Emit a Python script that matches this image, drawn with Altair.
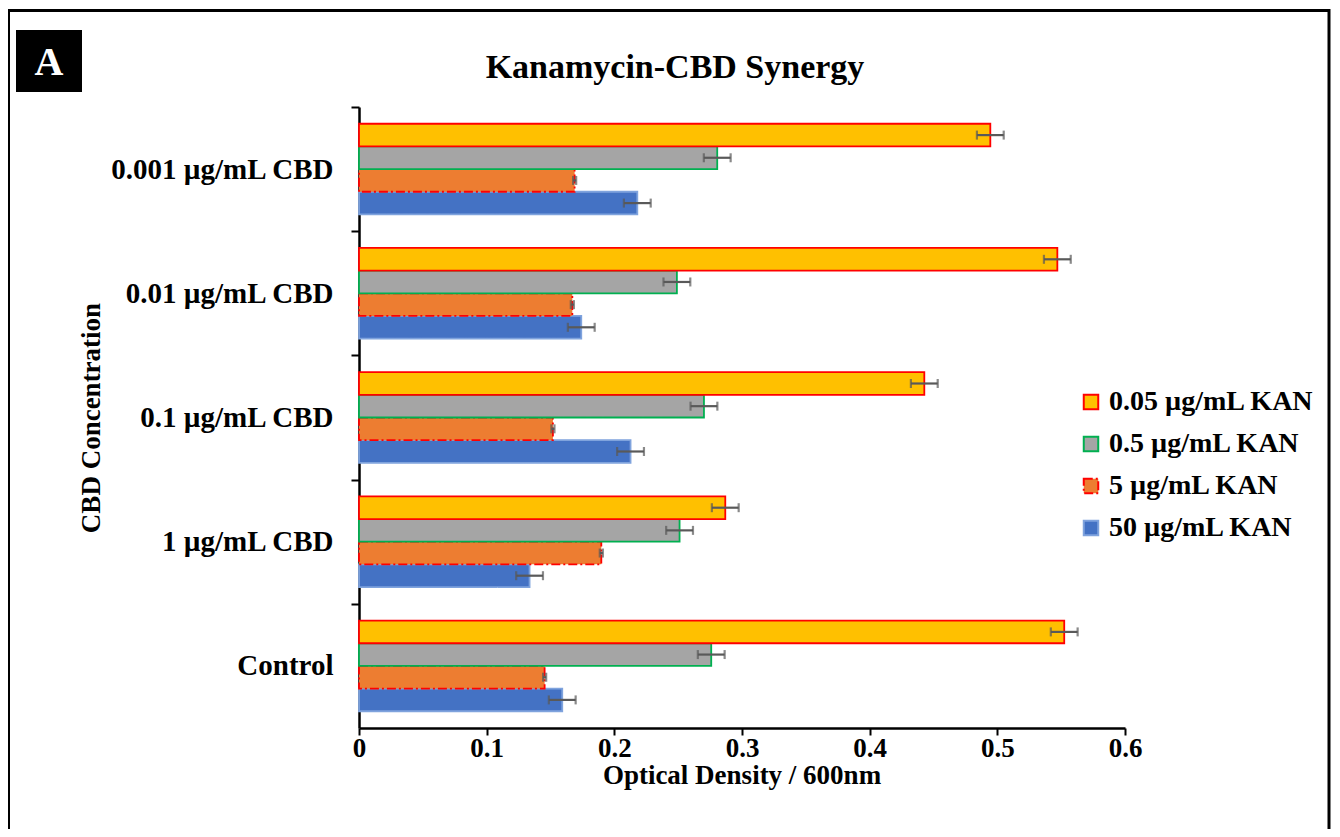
import altair as alt
import pandas as pd

categories = ["0.001 µg/mL CBD", "0.01 µg/mL CBD", "0.1 µg/mL CBD", "1 µg/mL CBD", "Control"]
series = ["0.05 µg/mL KAN", "0.5 µg/mL KAN", "5 µg/mL KAN", "50 µg/mL KAN"]

kan_005 = [0.4945, 0.547, 0.4428, 0.2869, 0.5524]
kan_05 = [0.2806, 0.249, 0.2702, 0.2511, 0.2759]
kan_5 = [0.1689, 0.1671, 0.1519, 0.1898, 0.1454]
kan_50 = [0.218, 0.1741, 0.2127, 0.1336, 0.1592]

err_005 = [0.0105, 0.0105, 0.0105, 0.0105, 0.0105]
err_05 = [0.0105, 0.0105, 0.0105, 0.0105, 0.0105]
err_5 = [0.0012, 0.0012, 0.0012, 0.0012, 0.0012]
err_50 = [0.0105, 0.0105, 0.0105, 0.0105, 0.0105]

x_ticks = [0, 0.1, 0.2, 0.3, 0.4, 0.5, 0.6]

fills = ["#FFC000", "#A5A5A5", "#ED7D31", "#4472C4"]
strokes = ["#FF0000", "#00B050", "#FF0000", "#7FA3DD"]
dashes = [[1, 0], [1, 0], [9, 3, 2, 3], [1, 0]]

vals = {series[0]: kan_005, series[1]: kan_05, series[2]: kan_5, series[3]: kan_50}
errs = {series[0]: err_005, series[1]: err_05, series[2]: err_5, series[3]: err_50}

rows = []
for s in reversed(series):  # draw order: blue first, yellow last
    for c, v, e in zip(categories, vals[s], errs[s]):
        rows.append({"cat": c, "series": s, "value": v, "lo": v - e, "hi": v + e})
df = pd.DataFrame(rows)

FONT = "Liberation Serif"
STEP = 621 / 5.0

leg = alt.Legend(
    title=None, orient="none", legendX=718, legendY=281,
    symbolType="square", symbolSize=210, symbolStrokeWidth=2,
    labelFont=FONT, labelFontSize=28, labelFontWeight="bold", labelColor="black",
    labelLimit=0, rowPadding=14, labelOffset=4, symbolOpacity=1,
)

y_enc = alt.Y(
    "cat:N", sort=categories,
    scale=alt.Scale(paddingInner=0.27, paddingOuter=0.135),
    axis=alt.Axis(title=None, tickOffset=-STEP / 2, labelOffset=STEP / 2,
                  tickSize=8, labelPadding=18, labelLimit=0,
                  labelFont=FONT, labelFontSize=29, labelFontWeight="bold",
                  labelColor="black", domainColor="black", domainWidth=2.5,
                  tickColor="black", tickWidth=2),
)
yoff_enc = alt.YOffset("series:N", sort=series,
                       scale=alt.Scale(domain=series, paddingInner=0, paddingOuter=0))
x_scale = alt.Scale(domain=[0, 0.6], nice=False)

bars = alt.Chart(df).mark_bar(strokeWidth=1.8, fillOpacity=1).encode(
    x=alt.X("value:Q", scale=x_scale,
            axis=alt.Axis(title=None, values=x_ticks, format=".1~f", grid=False,
                          tickSize=7, labelPadding=0, labelFlush=False,
                          labelFont=FONT, labelFontSize=27, labelFontWeight="bold",
                          labelColor="black", domainColor="black", domainWidth=2.5,
                          tickColor="black", tickWidth=2)),
    y=y_enc,
    yOffset=yoff_enc,
    fill=alt.Fill("series:N", scale=alt.Scale(domain=series, range=fills), legend=leg),
    stroke=alt.Stroke("series:N", scale=alt.Scale(domain=series, range=strokes), legend=leg),
    strokeDash=alt.StrokeDash("series:N", scale=alt.Scale(domain=series, range=dashes), legend=leg),
)

err_rule = alt.Chart(df).mark_rule(color="#595959", strokeWidth=2.2).encode(
    x=alt.X("lo:Q", scale=x_scale), x2="hi:Q", y=alt.Y("cat:N", sort=categories), yOffset=yoff_enc,
)
cap_lo = alt.Chart(df).mark_tick(color="#595959", thickness=2.2, size=9).encode(
    x=alt.X("lo:Q", scale=x_scale), y=alt.Y("cat:N", sort=categories), yOffset=yoff_enc,
)
cap_hi = alt.Chart(df).mark_tick(color="#595959", thickness=2.2, size=9).encode(
    x=alt.X("hi:Q", scale=x_scale), y=alt.Y("cat:N", sort=categories), yOffset=yoff_enc,
)

one = pd.DataFrame({"k": [0]})

frame = alt.Chart(one).mark_rect(fillOpacity=0, stroke="black", strokeWidth=3).encode(
    x=alt.value(-350.5), x2=alt.value(970), y=alt.value(-96.5), y2=alt.value(820),
)
badge = alt.Chart(one).mark_rect(fill="black").encode(
    x=alt.value(-343), x2=alt.value(-277), y=alt.value(-77), y2=alt.value(-15),
)
badge_text = alt.Chart(one).mark_text(
    font=FONT, fontSize=40, fontWeight="bold", color="white", align="center", baseline="middle"
).encode(x=alt.value(-310), y=alt.value(-44), text=alt.value("A"))

title = alt.Chart(one).mark_text(
    font=FONT, fontSize=34, fontWeight="bold", color="black", align="center", baseline="middle"
).encode(x=alt.value(316), y=alt.value(-39), text=alt.value("Kanamycin-CBD Synergy"))

x_title = alt.Chart(one).mark_text(
    font=FONT, fontSize=27, fontWeight="bold", color="black", align="center", baseline="middle"
).encode(x=alt.value(383), y=alt.value(669), text=alt.value("Optical Density / 600nm"))

y_title = alt.Chart(one).mark_text(
    font=FONT, fontSize=27, fontWeight="bold", color="black", align="center", baseline="middle",
    angle=270,
).encode(x=alt.value(-267), y=alt.value(311), text=alt.value("CBD Concentration"))

chart = alt.layer(
    frame, badge, badge_text, title, bars, err_rule, cap_lo, cap_hi, x_title, y_title
).properties(
    width=766, height=621,
    padding={"left": 351, "top": 99, "right": 207, "bottom": 101},
    autosize=alt.AutoSizeParams(type="none"),
    background="white",
).configure_view(stroke=None)

chart.save("out.html", embed_options={"renderer": "svg", "actions": False})
